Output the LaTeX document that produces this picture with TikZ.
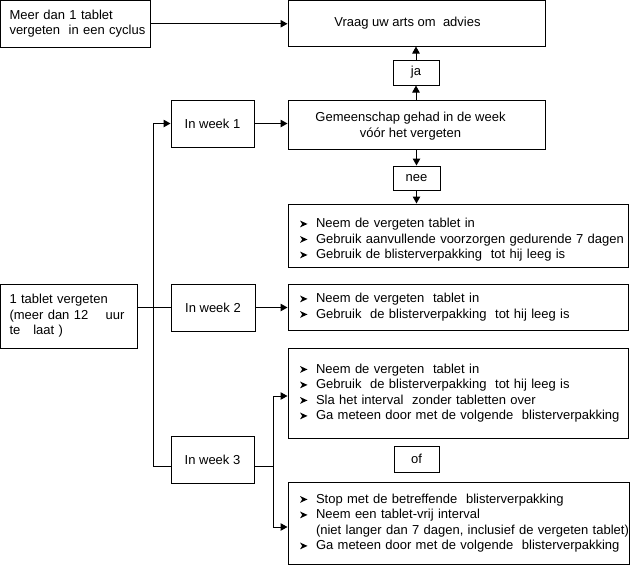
\documentclass[tikz,border=0pt]{standalone}
\usepackage{fontspec}
\setmainfont{Liberation Sans}
\usetikzlibrary{arrows.meta}
\newcommand\arrbul{\tikz[baseline=0pt,x=1pt,y=1pt]\fill (0,0.3)--(7.5,3.7)--(0,7.1)--(2.2,3.7)--cycle;}
\newcommand\blt{\makebox[25pt][l]{\hspace{9pt}\arrbul}}
\newcommand\bl[1]{\mbox{\blt#1}}
\newcommand\bcont[1]{\mbox{\hspace{25pt}#1}}
\newcommand\tstrut[1]{\rule{0pt}{\dimexpr 10pt+#1\relax}}
\begin{document}
\begin{tikzpicture}[x=1pt,y=-1pt,
  box/.style={draw, line width=1pt, inner sep=0pt, font=\fontsize{13}{15.5}\selectfont},
  cbox/.style={box, align=center},
  lbox/.style={box, align=left},
  arr/.style={-{Triangle[length=7pt,width=7.5pt]}, line width=1pt},
  ln/.style={line width=1pt}]
\useasboundingbox (0,0) rectangle (637,568);

\node[lbox, minimum width=149.5pt, minimum height=46.5pt, text width=131.5pt, inner xsep=9pt] (A) at (75.25,23.75)
  {\mbox{Meer dan 1 tablet}\\\mbox{vergeten \ in een cyclus}};
\node[cbox, minimum width=257pt, minimum height=45.5pt] (V) at (416.5,23.25)
  {\hspace*{-18pt}Vraag uw arts om \ advies};
\node[cbox, minimum width=46pt, minimum height=25pt] (ja) at (416,72.5) {ja};
\node[cbox, minimum width=257pt, minimum height=49pt] (G) at (416.5,124.5)
  {\tstrut{3pt}\hspace*{-12pt}Gemeenschap gehad in de week\\\hspace*{-12pt}vóór het vergeten};
\node[cbox, minimum width=47pt, minimum height=24pt] (nee) at (416.5,178) {nee};
\node[lbox, minimum width=340pt, minimum height=63pt, text width=334pt, inner xsep=3pt] (B1) at (458,235.5)
  {\tstrut{8pt}\bl{Neem de vergeten tablet in}\\\bl{Gebruik aanvullende voorzorgen gedurende 7 dagen}\\\bl{Gebruik de blisterverpakking \ tot hij leeg is}};
\node[cbox, minimum width=83pt, minimum height=47pt] (W1) at (212.5,123.5) {In week 1};
\node[cbox, minimum width=84pt, minimum height=47pt] (W2) at (213,307.5) {In week 2};
\node[cbox, minimum width=83pt, minimum height=47pt] (W3) at (212.5,459.5) {In week 3};
\node[lbox, minimum width=136.5pt, minimum height=64pt, text width=118.5pt, inner xsep=9pt] (T) at (68.75,316)
  {\mbox{1 tablet vergeten}\\\mbox{(meer dan 12 \ \ \ uur}\\\mbox{te \ \ laat )}};
\node[lbox, minimum width=340pt, minimum height=46pt, text width=334pt, inner xsep=3pt] (B2) at (458,307)
  {\bl{Neem de vergeten \ tablet in}\\\bl{Gebruik \ de blisterverpakking \ tot hij leeg is}};
\node[lbox, minimum width=340pt, minimum height=90pt, text width=334pt, inner xsep=3pt] (B3) at (458,393)
  {\bl{Neem de vergeten \ tablet in}\\\bl{Gebruik \ de blisterverpakking \ tot hij leeg is}\\\bl{Sla het interval \ zonder tabletten over}\\\bl{Ga meteen door met de volgende \ blisterverpakking}\\[5pt]};
\node[cbox, minimum width=45pt, minimum height=26pt] (of) at (416.5,459) {of};
\node[lbox, minimum width=341pt, minimum height=82pt, text width=335pt, inner xsep=3pt] (B4) at (458.5,523)
  {\bl{Stop met de betreffende \ blisterverpakking}\\\bl{Neem een tablet-vrij interval}\\\bcont{(niet langer dan 7 dagen, inclusief de vergeten tablet)}\\\bl{Ga meteen door met de volgende \ blisterverpakking}};

\coordinate (sx) at (153,0);
\coordinate (sx3) at (273,0);
\coordinate (w3l) at ([yshift=-6.5pt]W3.west);
\coordinate (w3r) at ([yshift=-6.5pt]W3.east);

\draw[arr] (A.east) -- (A.east -| V.west);
\draw[arr] (G.north -| ja.south) -- (ja.south);
\draw[arr] (ja.north) -- (ja.north |- V.south);
\draw[arr] (G.south -| nee.south) -- (nee.north);
\draw[arr] (nee.south) -- (nee.south |- B1.north);

\draw[ln] (W2.west -| T.east) -- (W2.west);
\draw[ln] (sx |- W1.west) -- (sx |- w3l) -- (w3l);
\draw[arr] (sx |- W1.west) -- (W1.west);
\draw[arr] (W1.east) -- (W1.east -| G.west);
\draw[arr] (W2.east) -- (W2.east -| B2.west);

\draw[ln] (w3r) -- (sx3 |- w3r);
\draw[arr] (sx3 |- w3r) |- ([yshift=-3pt]B3.west);
\draw[arr] (sx3 |- w3r) |- ([yshift=-4pt]B4.west);
\end{tikzpicture}
\end{document}
